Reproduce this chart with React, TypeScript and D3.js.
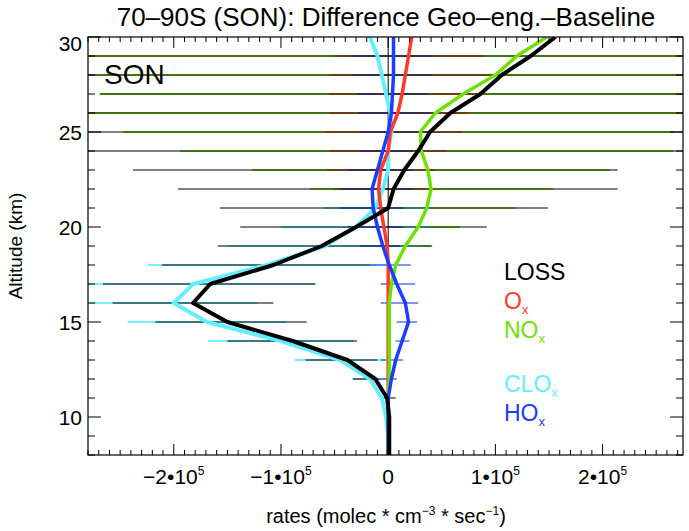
import { useEffect, useRef } from 'react'
import * as d3 from 'd3'

// altitude levels (km), top to bottom
const altitudes = [30, 29, 28, 27, 26, 25, 24, 23, 22, 21, 20, 19, 18, 17, 16, 15, 14, 13, 12, 11, 10, 9, 8]

// rate differences in units of 1e5 molec cm-3 s-1
const lossRate = [1.56, 1.33, 1.06, 0.86, 0.58, 0.39, 0.28, 0.15, 0.05, 0.0, -0.3, -0.62, -1.07, -1.66, -1.82, -1.5, -0.89, -0.38, -0.12, -0.01, 0.01, 0.01, 0.01]
const oxRate = [0.22, 0.19, 0.16, 0.13, 0.09, 0.02, 0, -0.07, -0.09, -0.07, -0.04, -0.01, 0, 0, 0, 0, 0, 0, 0, 0, 0, 0, 0]
const noxRate = [1.48, 1.2, 1.0, 0.7, 0.44, 0.3, 0.31, 0.37, 0.4, 0.36, 0.28, 0.16, 0.07, 0.03, 0.01, 0.01, 0.01, 0.01, 0.01, 0, 0, 0, 0]
const cloxRate = [-0.17, -0.1, -0.06, -0.02, 0.02, 0.03, 0, 0, -0.05, -0.12, -0.3, -0.59, -1.13, -1.82, -2.0, -1.69, -1.0, -0.45, -0.17, -0.06, -0.02, 0, 0]
const hoxRate = [0.05, 0.05, 0.05, 0.04, 0.03, 0, -0.05, -0.1, -0.15, -0.14, -0.1, -0.05, 0.01, 0.08, 0.16, 0.19, 0.13, 0.07, 0.03, 0, 0, 0, 0]

// error bar ranges [low, high], same units, null where none drawn
type Range = [number, number] | null
const lossErr: Range[] = [null, [-3, 3], [-3, 3], [-2.69, 3], [-3, 3], [-3, 3], [-3, 3], [-2.38, 2.14], [-1.96, 2.14], [-1.57, 1.49], [-1.38, 0.92], [-1.59, 0.41], [-2.11, -0.17], [-2.66, -0.68], [-2.57, -1.07], [-2.17, -0.76], [-1.5, -0.29], [-0.77, -0.1], [-0.33, -0.07], [-0.07, 0.07], null, null, null]
const oxErr: Range[] = [null, [-0.5, 0.9], [-0.55, 0.95], [-0.55, 0.8], [-0.55, 0.75], [-0.59, 0.69], [-0.55, 0.55], [-0.57, 0.43], [-0.5, 0.35], null, null, null, null, null, null, null, null, null, null, null, null, null, null]
const noxErr: Range[] = [null, [-3, 3], [-3, 3], [-2.69, 3], [-3, 3], [-2.47, 2.66], [-1.94, 2.66], [-1.27, 2.07], [-0.73, 1.54], [-0.5, 1.2], [-0.1, 0.67], [-0.1, 0.4], null, null, null, null, null, null, null, null, null, null, null]
const cloxErr: Range[] = [null, null, null, null, null, null, null, null, null, [-0.6, 0.4], [-1.0, 0.4], [-1.5, 0.3], [-2.24, -0.02], [-2.96, -0.68], [-2.78, -1.22], [-2.43, -0.95], [-1.68, -0.32], [-0.87, -0.03], [-0.33, 0], null, null, null, null]
const hoxErr: Range[] = [null, [-0.34, 0.42], [-0.33, 0.41], [-0.28, 0.37], [-0.28, 0.39], [-0.26, 0.41], [-0.26, 0.23], [-0.38, 0.23], [-0.45, 0.23], [-0.45, 0.14], [-0.38, 0.14], [-0.26, 0.11], [-0.17, 0.21], [-0.07, 0.25], [-0.07, 0.28], [0.08, 0.27], [0.07, 0.2], [-0.07, 0.14], [-0.07, 0.08], null, null, null, null]

const xMajor = [-2, -1, 0, 1, 2]
const yMajor = [10, 15, 20, 25, 30]

const legendNames = ['LOSS', 'O', 'NO', 'CLO', 'HO']
const legendSubs = ['', 'x', 'x', 'x', 'x']

const C_LOSS = '#000000'
const C_OX = '#ff3a2a'
const C_NOX = '#6fe000'
const C_CLOX = '#66eeff'
const C_HOX = '#1c3cff'

const FONT = '"Liberation Sans", Arial, Helvetica, sans-serif'

export default function App() {
  const svgRef = useRef<SVGSVGElement>(null)
  const width = 689
  const height = 531

  useEffect(() => {
    const svg = d3.select(svgRef.current)
    svg.selectAll('*').remove()

    const left = 88, right = 683, top = 37, bottom = 455
    const x = d3.scaleLinear().domain([-2.8e5, 2.75e5]).range([left, right])
    const y = d3.scaleLinear().domain([8, 30]).range([bottom, top])

    svg.append('rect').attr('width', width).attr('height', height).attr('fill', '#fff')

    svg.append('defs').append('clipPath').attr('id', 'plot-clip')
      .append('rect').attr('x', left).attr('y', top)
      .attr('width', right - left).attr('height', bottom - top)

    const plot = svg.append('g').attr('clip-path', 'url(#plot-clip)')

    // error bars
    const drawBars = (ranges: Range[], color: string, opacity: number, w: number) => {
      const rows = altitudes.map((a, i) => ({ a, r: ranges[i] })).filter(d => d.r)
      plot.append('g').selectAll('line').data(rows).join('line')
        .attr('x1', d => x(d.r![0] * 1e5))
        .attr('x2', d => x(d.r![1] * 1e5))
        .attr('y1', d => y(d.a))
        .attr('y2', d => y(d.a))
        .attr('stroke', color)
        .attr('stroke-opacity', opacity)
        .attr('stroke-width', w)
    }
    drawBars(noxErr, C_NOX, 0.85, 2)
    drawBars(oxErr, C_OX, 0.6, 2)
    drawBars(cloxErr, C_CLOX, 0.9, 2)
    drawBars(hoxErr, C_HOX, 0.55, 2)
    drawBars(lossErr, C_LOSS, 0.5, 2)

    // zero line
    plot.append('line')
      .attr('x1', x(0)).attr('x2', x(0))
      .attr('y1', top).attr('y2', bottom)
      .attr('stroke', '#000').attr('stroke-width', 1)

    const line = d3.line<number>()
      .x(d => x(d * 1e5))
      .y((_, i) => y(altitudes[i]))

    const curves: [number[], string, number][] = [
      [cloxRate, C_CLOX, 4],
      [oxRate, C_OX, 3.5],
      [noxRate, C_NOX, 3.5],
      [hoxRate, C_HOX, 3.5],
      [lossRate, C_LOSS, 4],
    ]
    curves.forEach(([vals, color, w]) => {
      plot.append('path')
        .attr('d', line(vals))
        .attr('fill', 'none')
        .attr('stroke', color)
        .attr('stroke-width', w)
        .attr('stroke-linejoin', 'round')
    })

    // frame
    svg.append('rect')
      .attr('x', left).attr('y', top)
      .attr('width', right - left).attr('height', bottom - top)
      .attr('fill', 'none').attr('stroke', '#000').attr('stroke-width', 1.2)

    const axes = svg.append('g').attr('stroke', '#000').attr('stroke-width', 1)

    // x ticks (bottom and top)
    const xMinor = d3.range(-28, 28).map(d => d * 1e4)
    xMinor.forEach(v => {
      const isMajor = Math.abs(v % 1e5) < 1
      const len = isMajor ? 11 : 5
      axes.append('line').attr('x1', x(v)).attr('x2', x(v)).attr('y1', bottom).attr('y2', bottom - len)
      axes.append('line').attr('x1', x(v)).attr('x2', x(v)).attr('y1', top).attr('y2', top + len)
    })

    // y ticks (left and right)
    d3.range(8, 31).forEach(v => {
      const isMajor = v % 5 === 0
      const len = isMajor ? 13 : 7
      axes.append('line').attr('x1', left).attr('x2', left + len).attr('y1', y(v)).attr('y2', y(v))
      axes.append('line').attr('x1', right).attr('x2', right - len).attr('y1', y(v)).attr('y2', y(v))
    })

    // x tick labels
    xMajor.forEach(m => {
      const t = svg.append('text')
        .attr('x', x(m * 1e5))
        .attr('y', 484)
        .attr('text-anchor', 'middle')
        .attr('font-family', FONT)
        .attr('font-size', 21)
        .attr('fill', '#000')
      if (m === 0) {
        t.text('0')
      } else {
        t.append('tspan').text(`${m < 0 ? '\u2212' : ''}${Math.abs(m)}\u202210`)
        t.append('tspan').attr('font-size', 12).attr('dy', -9).text('5')
      }
    })

    // y tick labels
    yMajor.forEach(v => {
      svg.append('text')
        .attr('x', 82)
        .attr('y', Math.max(y(v) + 7.5, top + 14))
        .attr('text-anchor', 'end')
        .attr('font-family', FONT)
        .attr('font-size', 21)
        .attr('fill', '#000')
        .text(String(v))
    })

    // x axis title
    const xt = svg.append('text')
      .attr('x', 386).attr('y', 523)
      .attr('text-anchor', 'middle')
      .attr('font-family', FONT).attr('font-size', 20).attr('fill', '#000')
    xt.append('tspan').text('rates (molec * cm')
    xt.append('tspan').attr('font-size', 12).attr('dy', -8).text('\u22123')
    xt.append('tspan').attr('dy', 8).text(' * sec')
    xt.append('tspan').attr('font-size', 12).attr('dy', -8).text('\u22121')
    xt.append('tspan').attr('dy', 8).text(')')

    // y axis title
    svg.append('text')
      .attr('transform', `translate(22, ${(top + bottom) / 2}) rotate(-90)`)
      .attr('text-anchor', 'middle')
      .attr('font-family', FONT).attr('font-size', 19).attr('fill', '#000')
      .text('Altitude (km)')

    // title
    svg.append('text')
      .attr('x', 386).attr('y', 26)
      .attr('text-anchor', 'middle')
      .attr('font-family', FONT).attr('font-size', 26).attr('fill', '#000')
      .text('70\u201390S (SON): Difference Geo\u2013eng.\u2013Baseline')

    // season tag
    svg.append('text')
      .attr('x', 104).attr('y', 84)
      .attr('font-family', FONT).attr('font-size', 28).attr('fill', '#000')
      .text('SON')

    // legend
    const legendColors = [C_LOSS, C_OX, C_NOX, C_CLOX, C_HOX]
    const legendY = [280, 309, 338, 392, 421]
    legendNames.forEach((name, i) => {
      const t = svg.append('text')
        .attr('x', 504).attr('y', legendY[i])
        .attr('font-family', FONT).attr('font-size', 23)
        .attr('fill', legendColors[i])
      t.append('tspan').text(name)
      if (legendSubs[i]) {
        t.append('tspan').attr('font-size', 13).attr('dy', 5).text(legendSubs[i])
      }
    })
  }, [])

  return (
    <svg
      ref={svgRef}
      width={width}
      height={height}
      style={{ position: 'absolute', left: 0, top: 0 }}
    />
  )
}
